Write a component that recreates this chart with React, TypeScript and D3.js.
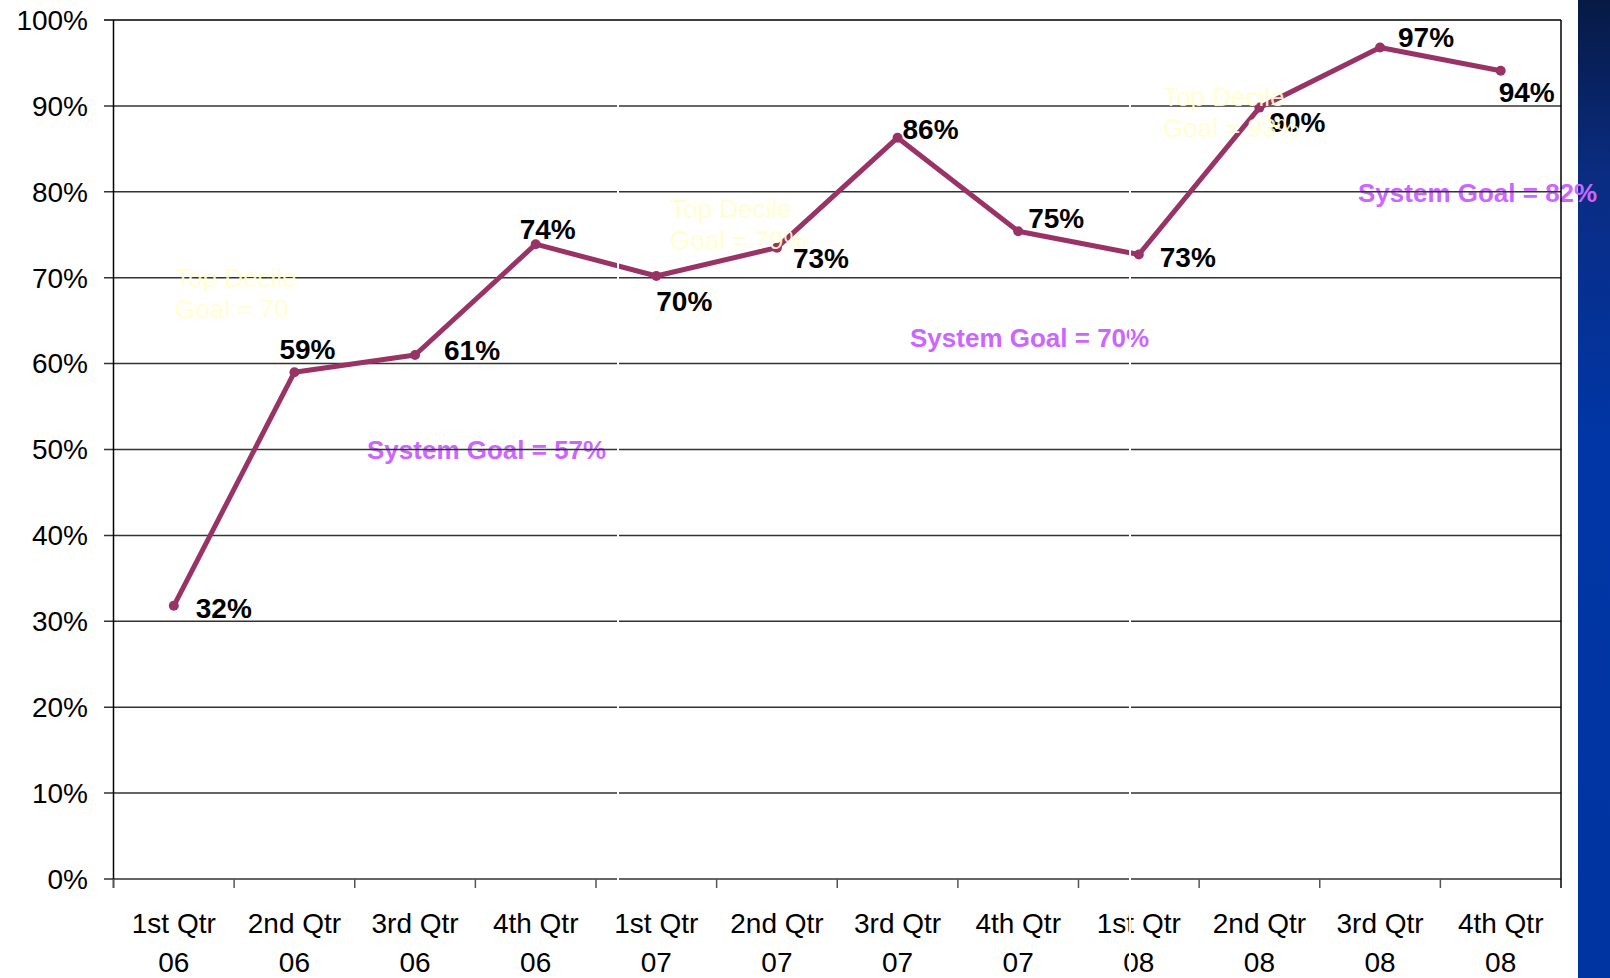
import { scaleBand, scaleLinear, line } from "d3"

const QUARTERS = ["1st Qtr", "2nd Qtr", "3rd Qtr", "4th Qtr", "1st Qtr", "2nd Qtr", "3rd Qtr", "4th Qtr", "1st Qtr", "2nd Qtr", "3rd Qtr", "4th Qtr"]
const YEARS = ["06", "06", "06", "06", "07", "07", "07", "07", "08", "08", "08", "08"]
const VALUES = [0.318, 0.59, 0.61, 0.739, 0.702, 0.735, 0.863, 0.754, 0.727, 0.898, 0.968, 0.941]
const VALUE_LABELS = ["32%", "59%", "61%", "74%", "70%", "73%", "86%", "75%", "73%", "90%", "97%", "94%"]
const Y_TICKS = [0, 0.1, 0.2, 0.3, 0.4, 0.5, 0.6, 0.7, 0.8, 0.9, 1]

// where each value label sits relative to its point (label centre)
const LABEL_OFFSETS: [number, number][] = [
  [50, 2], [13, -23], [57, -5], [12, -15], [28, 25], [44, 11],
  [33, -8], [38, -13], [49, 3], [38, 15], [46, -10], [26, 22],
]

// goal annotations
const SYSTEM_GOALS = ["System Goal = 57%", "System Goal = 70%", "System Goal = 82%"]
const SYSTEM_GOAL_POS: [number, number][] = [[367, 459], [910, 347], [1358, 202]]
const DECILE_GOALS = [["Top Decile", "Goal = 70"], ["Top Decile", "Goal = 79%"], ["Top Decile", "Goal = 93%"]]
const DECILE_POS: [number, number][] = [[175, 287], [670, 218], [1163, 106]]

const W = 1610
const H = 978
const M = { left: 113.5, right: 1561, top: 20, bottom: 879 }
const FONT = "'Liberation Sans', Arial, Helvetica, sans-serif"
const LINE_COLOR = "#993366"

export default function App() {
  const keys = QUARTERS.map((q, i) => `${q} ${YEARS[i]} ${i}`)
  const x = scaleBand().domain(keys).range([M.left, M.right]).padding(0)
  const y = scaleLinear().domain([0, 1]).range([M.bottom, M.top])
  const cx = (i: number) => x(keys[i])! + x.bandwidth() / 2

  const path = line<number>()
    .x((_, i) => cx(i))
    .y((d) => y(d))(VALUES)!

  return (
    <svg
      width={W}
      height={H}
      style={{ position: "absolute", left: 0, top: 0, background: "#fff" }}
      fontFamily={FONT}
    >
      <defs>
        <linearGradient id="side" x1="0" y1="0" x2="0" y2="1">
          <stop offset="0" stopColor="#071a44" />
          <stop offset="0.18" stopColor="#0a2c82" />
          <stop offset="0.45" stopColor="#0036a6" />
          <stop offset="1" stopColor="#0034a0" />
        </linearGradient>
      </defs>

      {/* blue slide strip on the right */}
      <rect x={1578} y={0} width={W - 1578} height={H} fill="url(#side)" />

      {/* system goal annotations (under the grid) */}
      {SYSTEM_GOALS.map((t, i) => (
        <text key={t} x={SYSTEM_GOAL_POS[i][0]} y={SYSTEM_GOAL_POS[i][1]} fontSize={26} fontWeight="bold" fill="#cc66ff">
          {t}
        </text>
      ))}

      {/* grid + y axis */}
      {Y_TICKS.map((t) => (
        <g key={t}>
          <line x1={104} x2={M.right} y1={y(t)} y2={y(t)} stroke={t === 1 ? "#000" : "#333"} strokeWidth={1.5} />
          <text x={88} y={y(t)} dy="0.35em" textAnchor="end" fontSize={28} fill="#000">
            {Math.round(t * 100)}%
          </text>
        </g>
      ))}
      <line x1={M.left} x2={M.left} y1={M.top} y2={M.bottom + 9} stroke="#000" strokeWidth={1.5} />
      <line x1={M.right} x2={M.right} y1={M.top} y2={M.bottom + 9} stroke="#000" strokeWidth={1.5} />

      {/* x axis ticks + labels */}
      {keys.map((k, i) => (
        <g key={k}>
          <line x1={x(k)!} x2={x(k)!} y1={M.bottom} y2={M.bottom + 9} stroke="#555" strokeWidth={1.5} />
          <text x={cx(i)} y={933} textAnchor="middle" fontSize={28} fill="#000">{QUARTERS[i]}</text>
          <text x={cx(i)} y={972} textAnchor="middle" fontSize={28} fill="#000">{YEARS[i]}</text>
        </g>
      ))}

      {/* series */}
      <path d={path} fill="none" stroke={LINE_COLOR} strokeWidth={5} strokeLinejoin="round" />
      {VALUES.map((v, i) => (
        <circle key={i} cx={cx(i)} cy={y(v)} r={5} fill={LINE_COLOR} />
      ))}
      {VALUES.map((v, i) => (
        <text
          key={i}
          x={cx(i) + LABEL_OFFSETS[i][0]}
          y={y(v) + LABEL_OFFSETS[i][1]}
          dy="0.35em"
          textAnchor="middle"
          fontSize={28}
          fontWeight="bold"
          fill="#000"
        >
          {VALUE_LABELS[i]}
        </text>
      ))}

      {/* top decile annotations */}
      {DECILE_GOALS.map((lines, i) => (
        <text key={i} x={DECILE_POS[i][0]} y={DECILE_POS[i][1]} fontSize={26} fill="#ffffcc" fillOpacity={0.92}>
          <tspan x={DECILE_POS[i][0]}>{lines[0]}</tspan>
          <tspan x={DECILE_POS[i][0]} dy={31}>{lines[1]}</tspan>
        </text>
      ))}

      {/* thin white seams in the original slide image */}
      <rect x={617} y={22} width={2} height={870} fill="#fff" />
      <rect x={1129} y={22} width={2} height={H - 22} fill="#fff" />
    </svg>
  )
}
